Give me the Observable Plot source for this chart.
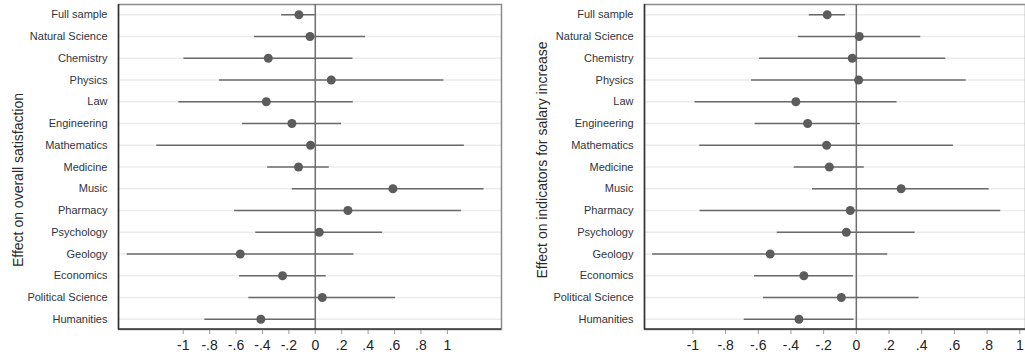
<!DOCTYPE html>
<html>
<head>
<meta charset="utf-8">
<script src="https://cdn.jsdelivr.net/npm/d3@7"></script>
<script src="https://cdn.jsdelivr.net/npm/@observablehq/plot@0.6"></script>
<style>
  html, body { margin: 0; padding: 0; background: #fff; overflow: hidden; }
  #wrap { position: relative; width: 1025px; height: 360px; overflow: hidden; }
  #left { position: absolute; left: 0; top: 0; width: 510px; }
  #right { position: absolute; left: 510px; top: 0; width: 525px; }
  svg { font-family: "Liberation Sans", Arial, sans-serif; max-width: none !important; }
  .ytitle { position: absolute; font-family: "Liberation Sans", Arial, sans-serif; font-size: 14px; color: #2a2a2a;
            white-space: nowrap; transform: translate(-50%, -50%) rotate(-90deg); line-height: 1; }
</style>
</head>
<body>
<div id="wrap">
  <div id="left"></div><div id="right"></div>
  <div class="ytitle" id="t1" style="left:18px; top:180px;"></div>
  <div class="ytitle" id="t2" style="left:542px; top:160px;"></div>
</div>
<script>
const categories = ["Full sample","Natural Science","Chemistry","Physics","Law","Engineering","Mathematics","Medicine","Music","Pharmacy","Psychology","Geology","Economics","Political Science","Humanities"];

// Effect on overall satisfaction
const satEst = [-0.124,-0.04,-0.356,0.121,-0.371,-0.177,-0.036,-0.127,0.588,0.247,0.03,-0.568,-0.248,0.053,-0.412];
const satLo  = [-0.255,-0.46,-0.995,-0.725,-1.033,-0.551,-1.2,-0.361,-0.174,-0.611,-0.45,-1.424,-0.573,-0.503,-0.836];
const satHi  = [0.0,0.381,0.285,0.974,0.288,0.199,1.129,0.106,1.278,1.108,0.51,0.293,0.083,0.608,0.0];

// Effect on indicators for salary increase
const salEst = [-0.178,0.018,-0.025,0.014,-0.37,-0.298,-0.182,-0.165,0.274,-0.037,-0.061,-0.527,-0.321,-0.092,-0.351];
const salLo  = [-0.288,-0.355,-0.592,-0.641,-0.987,-0.619,-0.958,-0.38,-0.268,-0.956,-0.484,-1.246,-0.623,-0.568,-0.686];
const salHi  = [-0.067,0.394,0.547,0.672,0.249,0.025,0.594,0.049,0.813,0.883,0.36,0.192,-0.018,0.384,-0.014];

const titles = ["Effect on overall satisfaction", "Effect on indicators for salary increase"];
const xTicks = [-1,-0.8,-0.6,-0.4,-0.2,0,0.2,0.4,0.6,0.8,1];
const fmt = d => d === 0 ? "0" : (d < 0 ? "-" : "") + String(+Math.abs(d).toFixed(1)).replace(/^0/, "");

function panel({est, lo, hi, width, marginLeft, marginRight, domain}) {
  const data = categories.map((c, i) => ({cat: c, est: est[i], lo: lo[i], hi: hi[i]}));
  const marginTop = 4, marginBottom = 31, height = 360;
  const plot = Plot.plot({
    width, height, marginLeft, marginRight, marginTop, marginBottom,
    style: {fontFamily: '"Liberation Sans", Arial, sans-serif', background: "#fff", maxWidth: "none"},
    x: {domain, ticks: xTicks},
    y: {type: "point", domain: categories, padding: 0.47, round: false},
    marks: [
      Plot.ruleY(categories, {y: d => d, stroke: "#ececec", strokeWidth: 1.5}),
      Plot.frame({stroke: "#8a8a8a", strokeWidth: 1.5}),
      Plot.ruleX([domain[0]], {stroke: "#333", strokeWidth: 1.5}),
      Plot.ruleX([0], {stroke: "#6e6e6e", strokeWidth: 1.5}),
      Plot.ruleY(data, {y: "cat", x1: "lo", x2: "hi", stroke: "#6a6a6a", strokeWidth: 1.5}),
      Plot.dot(data, {x: "est", y: "cat", r: 4.5, fill: "#5c5c5c", stroke: "none"}),
      Plot.axisX({ticks: xTicks, tickFormat: fmt, tickSize: 5, tickPadding: 6, fontSize: 14, stroke: "#999", color: "#222", label: null}),
      Plot.axisY({tickSize: 0, tickPadding: 11, fontSize: 11, color: "#2f3440", label: null})
    ]
  });
  // dark bottom frame edge
  d3.select(plot).append("line")
    .attr("x1", marginLeft).attr("x2", width - marginRight)
    .attr("y1", height - marginBottom).attr("y2", height - marginBottom)
    .attr("stroke", "#333").attr("stroke-width", 1.5);
  return plot;
}

document.getElementById("left").appendChild(panel({
  est: satEst, lo: satLo, hi: satHi, width: 510, marginLeft: 118, marginRight: 9, domain: [-1.49, 1.41]
}));
document.getElementById("right").appendChild(panel({
  est: salEst, lo: salLo, hi: salHi, width: 525, marginLeft: 134, marginRight: 10, domain: [-1.296, 1.035]
}));
document.getElementById("t1").textContent = titles[0];
document.getElementById("t2").textContent = titles[1];
</script>
</body>
</html>
